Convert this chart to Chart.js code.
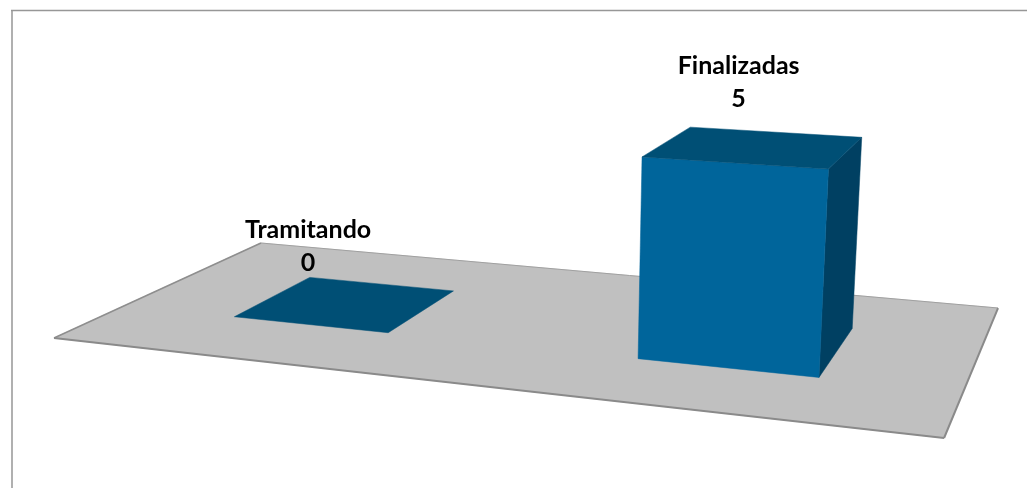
<!DOCTYPE html>
<html>
<head>
<meta charset="utf-8">
<style>
  html, body { margin: 0; padding: 0; background: #fff; overflow: hidden; }
  canvas { display: block; }
</style>
<script src="https://cdn.jsdelivr.net/npm/chart.js@4"></script>
</head>
<body>
<canvas id="myChart" width="1027" height="489"></canvas>
<script>
const categories = ["Tramitando", "Finalizadas"];
const values = [0, 5];
const axisMax = 5;

// camera fitted to the picture: (u, v, t) on chart area -> screen
// u = across the floor, v = depth, t = height
const cam = {
  x: [739.4, 264.2, -13.4, 54],
  y: [30.1, -41.7, -198.3, 338],
  w: [-0.1596, 0.2193, -0.0268, 1]
};
const depthFront = 0.3, depthBack = 0.7;

function project(u, v, t) {
  const dot = (m) => m[0] * u + m[1] * v + m[2] * t + m[3];
  const w = dot(cam.w);
  return [dot(cam.x) / w, dot(cam.y) / w];
}

function poly(c, pts, fill) {
  c.beginPath();
  pts.forEach((p, i) => i ? c.lineTo(p[0], p[1]) : c.moveTo(p[0], p[1]));
  c.closePath();
  c.fillStyle = fill;
  c.fill();
  // same colour hairline so the faces have no seam between them
  c.strokeStyle = fill;
  c.lineWidth = 0.5;
  c.stroke();
}

function edge(c, a, b, color, width) {
  c.beginPath();
  c.moveTo(a[0], a[1]);
  c.lineTo(b[0], b[1]);
  c.strokeStyle = color;
  c.lineWidth = width;
  c.stroke();
}

const box3d = {
  id: 'box3d',
  beforeDatasetsDraw(chart, args, opts) {
    const c = chart.ctx;
    c.save();
    // outer frame
    edge(c, [12, 488], [12, 10.5], '#b0b0b0', 2);
    edge(c, [11, 10.5], [1027, 10.5], '#979797', 1.5);

    // floor
    const fl = project(0, 0, 0), fr = project(1, 0, 0), br = project(1, 1, 0), bl = project(0, 1, 0);
    poly(c, [fl, fr, br, bl], opts.floor);
    edge(c, bl, br, '#a0a0a0', 1);
    edge(c, fl, bl, '#8e8e8e', 1.5);
    edge(c, fl, fr, '#8a8a8a', 2);
    edge(c, fr, br, '#8a8a8a', 2);
    c.restore();
  },
  afterDatasetsDraw(chart, args, opts) {
    const c = chart.ctx;
    const area = chart.chartArea;
    const base = chart.scales.y.getPixelForValue(0);
    const h = base - chart.scales.y.getPixelForValue(axisMax);
    c.save();
    chart.getDatasetMeta(0).data.forEach((bar, i) => {
      const u0 = (bar.x - bar.width / 2 - area.left) / area.width;
      const u1 = (bar.x + bar.width / 2 - area.left) / area.width;
      const t = (base - bar.y) / h;
      const v0 = depthFront, v1 = depthBack;
      const p = (u, v, z) => project(u, v, z);
      if (t > 0) {
        poly(c, [p(u1, v0, 0), p(u1, v1, 0), p(u1, v1, t), p(u1, v0, t)], opts.side);
        poly(c, [p(u0, v0, 0), p(u1, v0, 0), p(u1, v0, t), p(u0, v0, t)], opts.front);
      }
      poly(c, [p(u0, v0, t), p(u1, v0, t), p(u1, v1, t), p(u0, v1, t)], opts.top);

      // label above the front edge of the bar top
      const anchor = p((u0 + u1) / 2, v0, t);
      const shift = opts.labelShift[i];
      c.font = opts.font;
      c.fillStyle = '#000';
      c.textAlign = 'center';
      c.textBaseline = 'middle';
      c.fillText(categories[i], anchor[0] + shift[0], anchor[1] + shift[1] - opts.lineGap);
      c.fillText(String(values[i]), anchor[0] + shift[0], anchor[1] + shift[1]);
    });
    c.restore();
  }
};

new Chart(document.getElementById('myChart'), {
  type: 'bar',
  data: {
    labels: categories,
    datasets: [{
      data: values,
      backgroundColor: 'rgba(0,0,0,0)',
      categoryPercentage: 1,
      barPercentage: 0.4
    }]
  },
  plugins: [box3d],
  options: {
    responsive: false,
    animation: false,
    layout: { padding: 0 },
    scales: {
      x: { display: false },
      y: { display: false, min: 0, max: axisMax }
    },
    plugins: {
      legend: { display: false },
      tooltip: { enabled: false },
      box3d: {
        floor: '#c0c0c0',
        front: '#00659b',
        top: '#004f75',
        side: '#004062',
        font: 'bold 25px Lato',
        lineGap: 32.5,
        labelShift: [[-2, -62], [5, -64]]
      }
    }
  }
});
</script>
</body>
</html>
